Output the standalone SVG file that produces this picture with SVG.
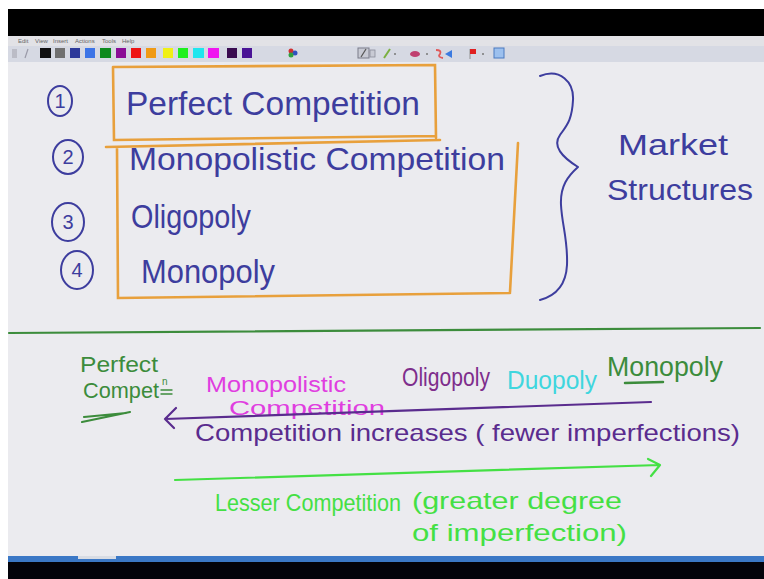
<svg xmlns="http://www.w3.org/2000/svg" width="764" height="579" viewBox="0 0 764 579">
<style>
.hw{font-family:"Liberation Sans","DejaVu Sans",sans-serif;}
.blue{fill:#3d3d9e;}
.ink{fill:none;stroke-linecap:round;stroke-linejoin:round;}
.org{stroke:#e8a03c;stroke-width:2.6;fill:none;stroke-linecap:round;}
.menu{font-family:"Liberation Sans",sans-serif;font-size:6px;fill:#666;}
</style>
<!-- frame -->
<rect x="0" y="0" width="764" height="579" fill="#ffffff"/>
<rect x="8" y="9" width="756" height="27" fill="#000"/>
<rect x="8" y="36" width="756" height="10" fill="#e2e2e6"/>
<rect x="8" y="46" width="756" height="16" fill="#d6d9e3"/>
<rect x="8" y="62" width="756" height="494" fill="#ebebef"/>
<rect x="8" y="556" width="756" height="6" fill="#3b78c6"/>
<rect x="78" y="556" width="38" height="3" fill="#d8dce4"/>
<rect x="8" y="562" width="756" height="17" fill="#03030a"/>
<!-- menu -->
<g id="menu">
<text class="menu" x="18" y="43">Edit</text>
<text class="menu" x="35" y="43">View</text>
<text class="menu" x="53" y="43">Insert</text>
<text class="menu" x="75" y="43">Actions</text>
<text class="menu" x="102" y="43">Tools</text>
<text class="menu" x="122" y="43">Help</text>
</g>
<g id="toolbar">
<rect x="12" y="49" width="5" height="9" fill="#bbbcc6"/>
<line x1="25" y1="58" x2="28" y2="49" stroke="#9a9aa8" stroke-width="1.2"/>
<rect x="40" y="48" width="11" height="10" fill="#111"/>
<rect x="55" y="48" width="10" height="10" fill="#707070"/>
<rect x="70" y="48" width="10" height="10" fill="#2e3a9a"/>
<rect x="85" y="48" width="10" height="10" fill="#3c74e6"/>
<rect x="100" y="48" width="11" height="10" fill="#0e8a1e"/>
<rect x="116" y="48" width="10" height="10" fill="#8a0c96"/>
<rect x="131" y="48" width="10" height="10" fill="#ee1414"/>
<rect x="146" y="48" width="10" height="10" fill="#f09a14"/>
<rect x="163" y="48" width="10" height="10" fill="#f0f014"/>
<rect x="178" y="48" width="10" height="10" fill="#1ef01e"/>
<rect x="193" y="48" width="11" height="10" fill="#1ee6ee"/>
<rect x="208" y="48" width="11" height="10" fill="#f014f0"/>
<rect x="227" y="48" width="10" height="10" fill="#3a0c50"/>
<rect x="242" y="48" width="10" height="10" fill="#4a1496"/>
<circle cx="291" cy="51" r="2.5" fill="#d03030"/>
<circle cx="295" cy="53" r="2.5" fill="#3050c0"/>
<circle cx="291" cy="55" r="2.5" fill="#30a040"/>
<rect x="358" y="48" width="11" height="10" fill="#c8cad4" stroke="#7a7c8a" stroke-width="1"/>
<line x1="361" y1="57" x2="366" y2="49" stroke="#555" stroke-width="1.2"/>
<rect x="370" y="50" width="5" height="7" fill="#c8cad4" stroke="#8a8c9a" stroke-width="0.8"/>
<line x1="384" y1="58" x2="390" y2="49" stroke="#7ab040" stroke-width="2"/>
<circle cx="395" cy="54" r="1" fill="#777"/>
<ellipse cx="415" cy="54" rx="5" ry="3" fill="#c04070"/>
<circle cx="427" cy="54" r="1" fill="#777"/>
<path d="M436 50 q6 0 4 4 q-3 3 3 4" stroke="#e05a5a" stroke-width="1.8" fill="none"/>
<path d="M445 54 l7 -4 v8 z" fill="#3a7ae0"/>
<line x1="470" y1="49" x2="470" y2="59" stroke="#909090" stroke-width="1"/>
<path d="M470 49 h6 v5 h-6 z" fill="#e02020"/>
<circle cx="483" cy="54" r="1" fill="#777"/>
<rect x="494" y="48" width="10" height="10" fill="#9cc0ee" stroke="#4a7ac0" stroke-width="1"/>
</g>

<!-- top section -->
<g id="box1">
<path class="org" d="M113 67 L435 65 L436 138 M113 67 L114 140 L436 136"/>
<text class="hw blue" x="126" y="115" font-size="34" textLength="294" lengthAdjust="spacingAndGlyphs">Perfect Competition</text>
</g>
<g id="box2">
<path class="org" d="M106 147 L440 140 M518 143 L510 292 M117 148 L118 298 L510 293"/>
<text class="hw blue" x="129" y="170" font-size="32" textLength="376" lengthAdjust="spacingAndGlyphs">Monopolistic Competition</text>
<text class="hw blue" x="131" y="228" font-size="34" textLength="120" lengthAdjust="spacingAndGlyphs">Oligopoly</text>
<text class="hw blue" x="141" y="283" font-size="34" textLength="134" lengthAdjust="spacingAndGlyphs">Monopoly</text>
</g>
<g id="numbers" fill="none" stroke="#3d3d9e" stroke-width="2">
<ellipse cx="60" cy="101" rx="12" ry="15"/>
<ellipse cx="68" cy="157" rx="15" ry="17"/>
<ellipse cx="68" cy="222" rx="16" ry="19"/>
<ellipse cx="77" cy="270" rx="16" ry="19"/>
</g>
<g id="numlabels" class="hw blue" font-size="20" text-anchor="middle">
<text x="60" y="108">1</text>
<text x="68" y="164">2</text>
<text x="68" y="229">3</text>
<text x="77" y="277">4</text>
</g>
<g id="brace">
<path class="ink" stroke="#3d3d9e" stroke-width="2" d="M540 76 C560 68 574 82 573 100 C572 120 567 125 560 135 C552 146 562 157 578 167 C568 176 560 186 561 205 C562 225 568 240 567 265 C566 285 555 296 540 300"/>
<text class="hw blue" x="618" y="155" font-size="30" textLength="110" lengthAdjust="spacingAndGlyphs">Market</text>
<text class="hw blue" x="607" y="200" font-size="30" textLength="146" lengthAdjust="spacingAndGlyphs">Structures</text>
</g>

<line id="divider" x1="9" y1="333" x2="760" y2="328" stroke="#3c8c3c" stroke-width="2.2" stroke-linecap="round"/>

<!-- bottom section -->
<g id="perfect" fill="#3c8c3c">
<text class="hw" x="80" y="372" font-size="22" textLength="78" lengthAdjust="spacingAndGlyphs">Perfect</text>
<text class="hw" x="83" y="398" font-size="22" textLength="76" lengthAdjust="spacingAndGlyphs">Compet</text>
<text class="hw" x="162" y="385" font-size="10">n</text>
<path class="ink" stroke="#3c8c3c" stroke-width="1.4" d="M161 390 L172 390 M161 394 L172 394"/>
<path class="ink" stroke="#3c8c3c" stroke-width="2.2" d="M82 422 L130 412 M84 417 L126 413"/>
</g>
<g id="monocomp" fill="#e03ee0">
<text class="hw" x="206" y="392" font-size="22" textLength="140" lengthAdjust="spacingAndGlyphs">Monopolistic</text>
<text class="hw" x="229" y="415" font-size="20" textLength="156" lengthAdjust="spacingAndGlyphs">Competition</text>
</g>
<text id="oligo" class="hw" x="402" y="386" font-size="26" fill="#7e2e8c" textLength="88" lengthAdjust="spacingAndGlyphs">Oligopoly</text>
<text id="duo" class="hw" x="507" y="389" font-size="26" fill="#3fd6de" textLength="90" lengthAdjust="spacingAndGlyphs">Duopoly</text>
<g id="mono" fill="#3c8c3c">
<text class="hw" x="607" y="376" font-size="28" textLength="116" lengthAdjust="spacingAndGlyphs">Monopoly</text>
<line x1="625" y1="383" x2="663" y2="382" stroke="#3c8c3c" stroke-width="2.5" stroke-linecap="round"/>
</g>
<g id="connectors">
<path class="ink" stroke="#5a2c8e" stroke-width="2.2" d="M165 419 L651 402 M176 408 L165 419 L174 428"/>
<path class="ink" stroke="#44e044" stroke-width="2.2" d="M175 480 L660 465 M648 459 L660 465 L651 476"/>
</g>
<text id="increase" class="hw" x="195" y="441" font-size="24" fill="#5a2c8e" textLength="545" lengthAdjust="spacingAndGlyphs">Competition increases ( fewer imperfections)</text>
<g id="lesser" fill="#44e044">
<text class="hw" x="215" y="511" font-size="24" textLength="186" lengthAdjust="spacingAndGlyphs">Lesser Competition</text>
<text class="hw" x="412" y="509" font-size="24" textLength="210" lengthAdjust="spacingAndGlyphs">(greater degree</text>
<text class="hw" x="412" y="541" font-size="24" textLength="215" lengthAdjust="spacingAndGlyphs">of imperfection)</text>
</g>
</svg>
